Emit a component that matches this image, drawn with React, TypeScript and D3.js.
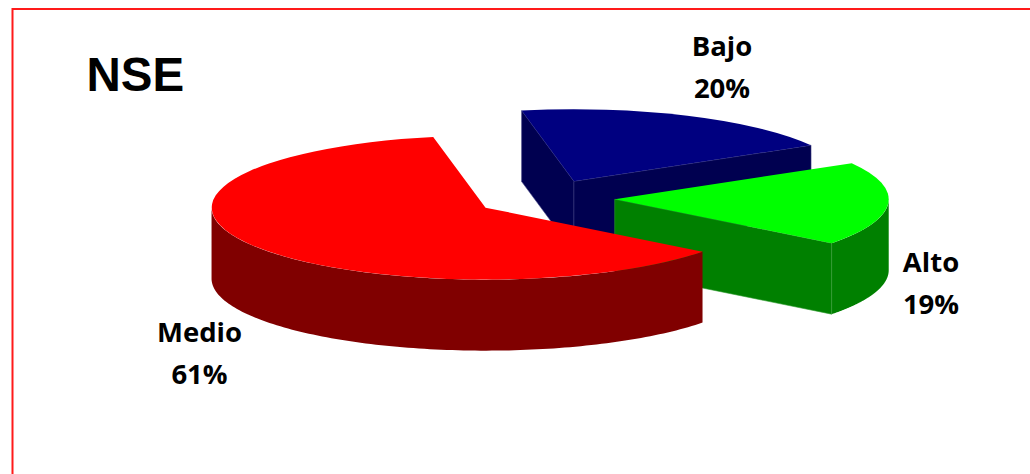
import React from 'react';
import * as d3 from 'd3';

// data (labels are the rounded shares printed on the chart)
const categories = ['Bajo', 'Alto', 'Medio'];
const shares = [19.7, 18.81, 61.49];
const shareLabels = ['20%', '19%', '61%'];

const topColors = ['#000080', '#00ff00', '#ff0000'];
const wallColors = ['#000050', '#008000', '#800000'];
const seamColors = ['#3a3a80', '#2f9a2f', '#800000'];
const labelSpots = [
  [722, 56],
  [931, 272],
  [199.5, 342],
];

const width = 1030;
const height = 474;
const cx = 545;
const cy = 198;
const rx = 274;
const ry = 72;
const depth = 71;
const explode = 0.255;
const rad = Math.PI / 180;

const pie = d3
  .pie<number>()
  .sort(null)
  .startAngle(-11 * rad)
  .endAngle(349 * rad);

const topArc = d3.arc<d3.PieArcDatum<number>>().innerRadius(0).outerRadius(1);

type Pt = { x: number; top: number };

// ribbon that hangs "depth" pixels below a line on the top face
const wall = d3
  .area<Pt>()
  .x((d) => d.x)
  .y0((d) => d.top)
  .y1((d) => d.top + depth);

const App = () => {
  const slices = pie(shares).map((s, i) => {
    const mid = (s.startAngle + s.endAngle) / 2;
    const ox = cx + Math.sin(mid) * rx * explode;
    const oy = cy - Math.cos(mid) * ry * explode;
    const rim = (a: number): Pt => ({
      x: ox + Math.sin(a) * rx,
      top: oy - Math.cos(a) * ry,
    });
    const apex = { x: ox, top: oy };

    const walls: string[] = [];
    // side faces only show when they look towards the viewer
    if (Math.sin(s.startAngle) < 0) walls.push(wall([apex, rim(s.startAngle)]) as string);
    if (Math.sin(s.endAngle) > 0) walls.push(wall([apex, rim(s.endAngle)]) as string);

    // outer curved face, front half of the ellipse only
    const from = Math.max(s.startAngle, 90 * rad);
    const to = Math.min(s.endAngle, 270 * rad);
    const curve = to > from ? (wall(d3.range(0, 121).map((k) => rim(from + ((to - from) * k) / 120))) as string) : null;

    return { s, i, ox, oy, walls, curve };
  });

  return (
    <svg width={width} height={height} style={{ position: 'fixed', left: 0, top: 0, background: '#fff' }}>
      <rect x={12.5} y={9} width={width + 20} height={height + 20} fill="none" stroke="#ff1a1a" strokeWidth={2} />
      <text x={86.5} y={91} fontFamily="Liberation Sans" fontWeight="bold" fontSize={47.5} fill="#000">
        NSE
      </text>

      {slices.map(({ s, i, ox, oy, walls, curve }) => (
        <g key={categories[i]}>
          {curve && <path d={curve} fill={wallColors[i]} />}
          {walls.map((d, k) => (
            <path key={k} d={d} fill={wallColors[i]} stroke={seamColors[i]} strokeWidth={0.6} />
          ))}
          <path d={topArc(s) as string} transform={`translate(${ox},${oy}) scale(${rx},${ry})`} fill={topColors[i]} />
        </g>
      ))}

      {categories.map((c, i) => (
        <text
          key={c}
          textAnchor="middle"
          fontFamily="Open Sans"
          fontWeight="bold"
          fontSize={27.5}
          fill="#000"
        >
          <tspan x={labelSpots[i][0]} y={labelSpots[i][1]}>
            {c}
          </tspan>
          <tspan x={labelSpots[i][0]} y={labelSpots[i][1] + 42}>
            {shareLabels[i]}
          </tspan>
        </text>
      ))}
    </svg>
  );
};

export default App;
